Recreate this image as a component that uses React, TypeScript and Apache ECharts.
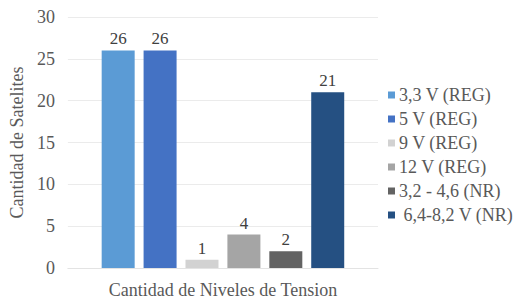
import React, { useEffect, useRef } from "react";
import * as echarts from "echarts";

const categories = ["Cantidad de Niveles de Tension"];
const seriesNames = ["3,3 V (REG)", "5 V (REG)", "9 V (REG)", "12 V (REG)", "3,2 - 4,6 (NR)", " 6,4-8,2 V (NR)"];
const seriesValues = [26, 26, 1, 4, 2, 21];
const seriesColors = ["#5B9BD5", "#4472C4", "#D2D2D2", "#A5A5A5", "#636363", "#255082"];
const yTicks = { min: 0, max: 30, interval: 5 };

const FONT = "Liberation Serif";

export default function App() {
  const ref = useRef<HTMLDivElement>(null);
  useEffect(() => {
    const chart = echarts.init(ref.current!, null, { renderer: "svg" });
    chart.setOption({
      animation: false,
      textStyle: { fontFamily: FONT },
      grid: { left: 59, right: 138, top: 17, bottom: 33 },
      legend: {
        orient: "vertical",
        left: 388,
        top: 86,
        padding: 0,
        itemWidth: 7,
        itemHeight: 7,
        itemGap: 6,
        icon: "rect",
        data: seriesNames,
        textStyle: { fontFamily: FONT, fontSize: 18, color: "#595959", padding: [0, 0, 0, -1] },
      },
      xAxis: {
        type: "category",
        data: categories,
        axisLine: { show: true, lineStyle: { color: "#E3E3E3" } },
        axisTick: { show: false },
        axisLabel: { fontFamily: FONT, fontSize: 18, color: "#595959", margin: 13 },
      },
      yAxis: {
        type: "value",
        min: yTicks.min,
        max: yTicks.max,
        interval: yTicks.interval,
        name: "Cantidad de Satelites",
        nameLocation: "middle",
        nameGap: 36,
        nameTextStyle: { fontFamily: FONT, fontSize: 18, color: "#595959" },
        axisLine: { show: false },
        axisTick: { show: false },
        axisLabel: { fontFamily: FONT, fontSize: 18, color: "#595959", margin: 13 },
        splitLine: { lineStyle: { color: "#EBEBEB" } },
      },
      series: seriesNames.map((name, i) => ({
        name,
        type: "bar",
        data: [seriesValues[i]],
        barWidth: 33,
        barGap: "27%",
        itemStyle: { color: seriesColors[i] },
        label: {
          show: true,
          position: "top",
          distance: 3,
          fontFamily: FONT,
          fontSize: 17,
          color: "#404040",
        },
      })),
    });
    return () => chart.dispose();
  }, []);
  return (
    <div
      ref={ref}
      style={{ position: "fixed", left: 0, top: 0, width: 516, height: 301, background: "#fff" }}
    />
  );
}
